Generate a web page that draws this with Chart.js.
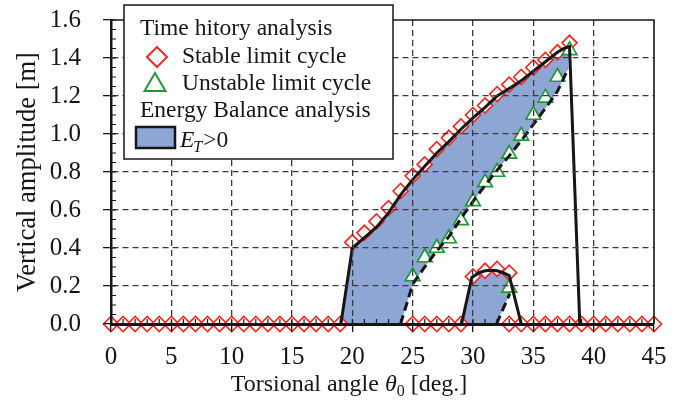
<!DOCTYPE html>
<html>
<head>
<meta charset="utf-8">
<style>
  html, body { margin: 0; padding: 0; background: #fff; }
  #wrap { width: 680px; height: 403px; }
</style>
<script src="https://cdn.jsdelivr.net/npm/chart.js@4.4.1/dist/chart.umd.min.js"></script>
</head>
<body>
<div id="wrap"><canvas id="grafico" width="680" height="403"></canvas></div>
<script>
// Time history analysis: stable limit cycles (diamonds)
const stableZeroX = [0, 1, 2, 3, 4, 5, 6, 7, 8, 9, 10, 11, 12, 13, 14, 15, 16, 17, 18, 19,
                     25, 26, 27, 28, 29, 33, 34, 35, 36, 37, 38, 39, 40, 41, 42, 43, 44, 45];
const stableUpperX = [20, 21, 22, 23, 24, 25, 26, 27, 28, 29, 30, 31, 32, 33, 34, 35, 36, 37, 38];
const stableUpperY = [0.43, 0.48, 0.54, 0.61, 0.70, 0.78, 0.84, 0.92, 0.98, 1.04, 1.10, 1.15, 1.21, 1.26, 1.30, 1.35, 1.39, 1.43, 1.48];
const stableBubbleX = [30, 31, 32, 33];
const stableBubbleY = [0.25, 0.28, 0.29, 0.27];

// Time history analysis: unstable limit cycles (triangles)
const unstableX = [25, 26, 27, 28, 29, 30, 31, 32, 33, 34, 35, 36, 37, 38];
const unstableY = [0.25, 0.35, 0.40, 0.45, 0.545, 0.645, 0.745, 0.80, 0.895, 0.99, 1.10, 1.19, 1.30, 1.44];
const unstableBubbleX = [33];
const unstableBubbleY = [0.19];

// Energy balance analysis: borders of E_T > 0
const ebUpperX = [19.05, 20, 21, 22, 23, 24, 25, 26, 27, 28, 29, 30, 31, 32, 33, 34, 35, 36, 37, 37.5, 38, 38.85];
const ebUpperY = [0, 0.40, 0.455, 0.51, 0.585, 0.68, 0.76, 0.83, 0.90, 0.96, 1.025, 1.085, 1.14, 1.20, 1.24, 1.28, 1.33, 1.38, 1.43, 1.45, 1.46, 0];
const ebLowerX = [24.0, 25, 26, 27, 28, 29, 30, 31, 32, 33, 34, 35, 36, 37, 37.9];
const ebLowerY = [0, 0.21, 0.30, 0.385, 0.46, 0.555, 0.645, 0.73, 0.81, 0.885, 0.965, 1.05, 1.135, 1.225, 1.345];
const bubUpperX = [29.05, 29.9, 30.5, 31, 31.5, 32, 32.5, 33.0, 34.0];
const bubUpperY = [0, 0.245, 0.27, 0.28, 0.283, 0.28, 0.27, 0.255, 0];
const bubLowerX = [31.95, 33.05];
const bubLowerY = [0, 0.16];

// Axes
const xTicks = [0, 5, 10, 15, 20, 25, 30, 35, 40, 45];
const xTickLabels = ['0', '5', '10', '15', '20', '25', '30', '35', '40', '45'];
const yTicks = [0, 0.2, 0.4, 0.6, 0.8, 1.0, 1.2, 1.4, 1.6];
const yTickLabels = ['0.0', '0.2', '0.4', '0.6', '0.8', '1.0', '1.2', '1.4', '1.6'];

const VERMELHO = '#ee2b24';
const VERDE = '#23983a';
const AZUL = '#8ea6d4';
const PRETO = '#161616';
const GRADE = '#3c3c3c';
const FONTE = '"Liberation Serif", "Times New Roman", serif';

const pts = (xs, ys) => xs.map((x, i) => ({ x: x, y: ys[i] }));

// polygon of the E_T>0 regions: upper border, then lower border backwards
const areaGrande = pts(ebUpperX.slice(0, -1), ebUpperY.slice(0, -1)).concat(pts(ebLowerX, ebLowerY).reverse());
const areaBolha = pts(bubUpperX.slice(0, -1), bubUpperY.slice(0, -1)).concat(pts(bubLowerX, bubLowerY).reverse());

function linha(dados, tracejada) {
    return {
        data: dados, showLine: true, pointRadius: 0, borderColor: PRETO, borderWidth: 3,
        borderDash: tracejada ? [9, 5] : [], fill: false, tension: 0, order: 1
    };
}
function marcador(dados, estilo, cor, raio) {
    return {
        data: dados, showLine: false, pointStyle: estilo, pointRadius: raio, pointBorderColor: cor,
        pointBackgroundColor: '#fff', pointBorderWidth: 1.7, clip: false, order: 2
    };
}
function area(dados) {
    return {
        data: dados, showLine: true, pointRadius: 0, borderWidth: 0, borderColor: AZUL,
        backgroundColor: AZUL, fill: 'shape', tension: 0, order: 3
    };
}

// minor ticks, frame, x title and the legend box
const decoracao = {
    id: 'decoracao',
    afterDraw(chart) {
        const ctx = chart.ctx;
        const xs = chart.scales.x, ys = chart.scales.y;
        const a = chart.chartArea;
        ctx.save();
        ctx.strokeStyle = PRETO;
        ctx.lineWidth = 1.2;
        ctx.beginPath();
        for (let v = 0; v <= 45; v++) {
            const px = xs.getPixelForValue(v);
            ctx.moveTo(px, a.bottom);
            ctx.lineTo(px, a.bottom - 5);
        }
        for (let k = 0; k <= 32; k++) {
            const py = ys.getPixelForValue(k * 0.05);
            ctx.moveTo(a.left, py);
            ctx.lineTo(a.left + 5, py);
        }
        ctx.stroke();

        // top and right frame
        ctx.lineWidth = 1.6;
        ctx.beginPath();
        ctx.moveTo(a.left, a.top);
        ctx.lineTo(a.right, a.top);
        ctx.lineTo(a.right, a.bottom);
        ctx.stroke();

        // x axis title with italic theta and subscript 0
        ctx.fillStyle = PRETO;
        ctx.textBaseline = 'alphabetic';
        const normal = '24px ' + FONTE, italico = 'italic 24px ' + FONTE, sub = '16px ' + FONTE;
        const partes = [
            { t: 'Torsional angle ', f: normal, dy: 0 },
            { t: '\u03b8', f: italico, dy: 0 },
            { t: '0', f: sub, dy: 5 },
            { t: ' [deg.]', f: normal, dy: 0 }
        ];
        let largura = 0;
        partes.forEach(p => { ctx.font = p.f; p.w = ctx.measureText(p.t).width; largura += p.w; });
        let cx = 349 - largura / 2;
        partes.forEach(p => { ctx.font = p.f; ctx.fillText(p.t, cx, 391 + p.dy); cx += p.w; });

        // legend
        ctx.fillStyle = '#fff';
        ctx.fillRect(124, 5, 269, 154);
        ctx.strokeStyle = PRETO;
        ctx.lineWidth = 1.5;
        ctx.strokeRect(124, 5, 269, 154);

        ctx.fillStyle = PRETO;
        ctx.font = '23.5px ' + FONTE;
        ctx.fillText('Time hitory analysis', 140, 35);
        ctx.fillText('Stable limit cycle', 182, 63);
        ctx.fillText('Unstable limit cycle', 182, 90);
        ctx.fillText('Energy Balance analysis', 140, 117);

        // diamond
        ctx.lineWidth = 2;
        ctx.strokeStyle = VERMELHO;
        ctx.fillStyle = '#fff';
        ctx.beginPath();
        ctx.moveTo(157, 47); ctx.lineTo(167, 57); ctx.lineTo(157, 67); ctx.lineTo(147, 57);
        ctx.closePath(); ctx.fill(); ctx.stroke();
        // triangle
        ctx.strokeStyle = VERDE;
        ctx.beginPath();
        ctx.moveTo(155, 73); ctx.lineTo(165.5, 91); ctx.lineTo(144.5, 91);
        ctx.closePath(); ctx.fill(); ctx.stroke();
        // filled box
        ctx.fillStyle = AZUL;
        ctx.strokeStyle = PRETO;
        ctx.lineWidth = 2.5;
        ctx.fillRect(136, 127, 39, 21);
        ctx.strokeRect(136, 127, 39, 21);

        ctx.fillStyle = PRETO;
        ctx.font = 'italic 23.5px ' + FONTE;
        ctx.fillText('E', 180, 147);
        let ex = 180 + ctx.measureText('E').width - 1;
        ctx.font = 'italic 16px ' + FONTE;
        ctx.fillText('T', ex, 152);
        ex += ctx.measureText('T').width + 1;
        ctx.font = '23.5px ' + FONTE;
        ctx.fillText('>0', ex, 147);
        ctx.restore();
    }
};

const gradeX = c => (c.index === 0 || c.index === xTicks.length - 1) ? 'rgba(0,0,0,0)' : GRADE;
const gradeY = c => (c.index === 0 || c.index === yTicks.length - 1) ? 'rgba(0,0,0,0)' : GRADE;

const grafico = new Chart(document.getElementById('grafico'), {
    type: 'line',
    data: {
        datasets: [
            linha(pts(ebUpperX, ebUpperY), false),
            linha(pts(ebLowerX, ebLowerY), true),
            linha(pts(bubUpperX, bubUpperY), false),
            linha(pts(bubLowerX, bubLowerY), true),
            marcador(pts(unstableX, unstableY), 'triangle', VERDE, 8.5),
            marcador(pts(unstableBubbleX, unstableBubbleY), 'triangle', VERDE, 8.5),
            marcador(stableZeroX.map(x => ({ x: x, y: 0 })), 'rectRot', VERMELHO, 7.5),
            marcador(pts(stableUpperX, stableUpperY), 'rectRot', VERMELHO, 7.5),
            marcador(pts(stableBubbleX, stableBubbleY), 'rectRot', VERMELHO, 7.5),
            area(areaGrande),
            area(areaBolha)
        ]
    },
    options: {
        responsive: false,
        animation: false,
        devicePixelRatio: 1,
        layout: { padding: { left: 0, right: 26, top: 20, bottom: 0 } },
        plugins: { legend: { display: false }, tooltip: { enabled: false } },
        scales: {
            x: {
                type: 'linear', min: 0, max: 45,
                afterBuildTicks: s => { s.ticks = xTicks.map(v => ({ value: v })); },
                afterFit: s => { s.height = 79; s.paddingLeft = 0; s.paddingRight = 0; },
                ticks: {
                    callback: (v, i) => xTickLabels[i], color: PRETO, padding: 10,
                    maxRotation: 0, autoSkip: false, font: { family: FONTE, size: 25 }
                },
                grid: {
                    z: 1, color: gradeX, lineWidth: 1.3,
                    tickColor: PRETO, tickLength: 8, tickWidth: 1.3, tickBorderDash: []
                },
                border: { display: true, color: PRETO, width: 3, dash: [6, 4], z: 2 }
            },
            y: {
                min: 0, max: 1.6,
                afterBuildTicks: s => { s.ticks = yTicks.map(v => ({ value: v })); },
                afterFit: s => { s.width = 111; s.paddingTop = 0; s.paddingBottom = 0; },
                ticks: {
                    callback: (v, i) => yTickLabels[i], color: PRETO, padding: 22,
                    font: { family: FONTE, size: 25 }
                },
                grid: {
                    z: 1, color: gradeY, lineWidth: 1.3,
                    tickColor: PRETO, tickLength: 8, tickWidth: 1.3, tickBorderDash: []
                },
                border: { display: true, color: PRETO, width: 2.5, dash: [6, 4], z: 2 },
                title: {
                    display: true, text: 'Vertical amplitude [m]', color: PRETO,
                    font: { family: FONTE, size: 26.5 }, padding: { top: 12, bottom: 0 }
                }
            }
        }
    },
    plugins: [decoracao]
});
</script>
</body>
</html>
